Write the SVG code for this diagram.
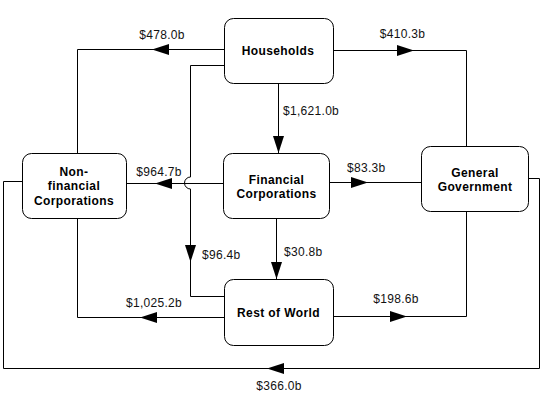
<svg xmlns="http://www.w3.org/2000/svg" xmlns:xlink="http://www.w3.org/1999/xlink" width="545" height="402" viewBox="0 0 545 402">
<style>
.box{fill:#fff;stroke:#000;stroke-width:1}
.bt{font-family:"Liberation Sans",Arial,sans-serif;font-size:12px;font-weight:bold;fill:#000;text-anchor:middle;letter-spacing:0.4px}
.lb{font-family:"Liberation Sans",Arial,sans-serif;font-size:12px;fill:#111;letter-spacing:0.3px}
.ln{fill:none;stroke:#000;stroke-width:1}
</style>
<defs>
<path id="ah" d="M0,0 L-17,-5.5 L-17,5.5 Z" fill="#000"/>
</defs>
<rect width="545" height="402" fill="#fff"/>
<g id="connectors">
<path class="ln" d="M224,49.5 H77.5 V153"/>
<path class="ln" d="M224,65.5 H190.5 V177 A6,6 0 0 0 190.5,189 V296.5 H224"/>
<path class="ln" d="M278.5,83 V153"/>
<path class="ln" d="M333,50.5 H466.5 V146"/>
<path class="ln" d="M223,183.5 H126"/>
<path class="ln" d="M329,182.5 H421"/>
<path class="ln" d="M276.5,218 V279"/>
<path class="ln" d="M224,317.5 H77.5 V218"/>
<path class="ln" d="M333,316.5 H466.5 V211"/>
<path class="ln" d="M528,178.5 H539.5 V368.5 H3.5 V181.5 H22"/>
<use xlink:href="#ah" transform="translate(152,49.5) rotate(180)"/>
<use xlink:href="#ah" transform="translate(190.5,262) rotate(90)"/>
<use xlink:href="#ah" transform="translate(278.5,153) rotate(90)"/>
<use xlink:href="#ah" transform="translate(414,50.5)"/>
<use xlink:href="#ah" transform="translate(155,183.5) rotate(180)"/>
<use xlink:href="#ah" transform="translate(368,182.5)"/>
<use xlink:href="#ah" transform="translate(276.5,279) rotate(90)"/>
<use xlink:href="#ah" transform="translate(140,317.5) rotate(180)"/>
<use xlink:href="#ah" transform="translate(407,316.5)"/>
<use xlink:href="#ah" transform="translate(267,368.5) rotate(180)"/>
<text class="lb" x="162" y="39" text-anchor="middle">$478.0b</text>
<text class="lb" x="402.5" y="38" text-anchor="middle">$410.3b</text>
<text class="lb" x="283" y="115">$1,621.0b</text>
<text class="lb" x="159" y="176" text-anchor="middle">$964.7b</text>
<text class="lb" x="202" y="259">$96.4b</text>
<text class="lb" x="347" y="171.5">$83.3b</text>
<text class="lb" x="284" y="256">$30.8b</text>
<text class="lb" x="154" y="306.5" text-anchor="middle">$1,025.2b</text>
<text class="lb" x="396" y="303" text-anchor="middle">$198.6b</text>
<text class="lb" x="279" y="390" text-anchor="middle">$366.0b</text>
</g>
<g id="households">
<rect class="box" x="224.5" y="18.5" width="109" height="65" rx="9"/>
<text class="bt" x="278" y="55">Households</text>
</g>
<g id="nonfinancial">
<rect class="box" x="22.5" y="153.5" width="104" height="65" rx="9"/>
<text class="bt" x="74" y="175.5">Non-</text>
<text class="bt" x="74" y="190">financial</text>
<text class="bt" x="74" y="205">Corporations</text>
</g>
<g id="financial">
<rect class="box" x="223.5" y="153.5" width="106" height="65" rx="9"/>
<text class="bt" x="276.5" y="184">Financial</text>
<text class="bt" x="276.5" y="198">Corporations</text>
</g>
<g id="government">
<rect class="box" x="421.5" y="146.5" width="107" height="65" rx="9"/>
<text class="bt" x="475" y="176.5">General</text>
<text class="bt" x="475" y="190.5">Government</text>
</g>
<g id="restofworld">
<rect class="box" x="224.5" y="279.5" width="109" height="66" rx="9"/>
<text class="bt" x="278.5" y="317">Rest of World</text>
</g>
</svg>
